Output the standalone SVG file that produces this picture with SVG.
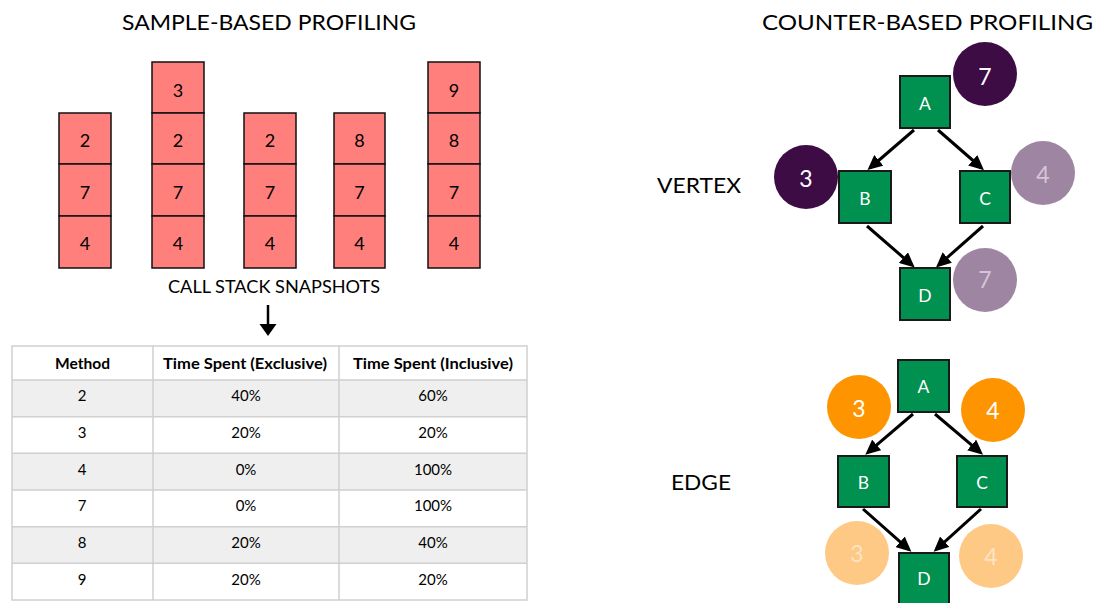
<svg xmlns="http://www.w3.org/2000/svg" width="1096" height="603" viewBox="0 0 1096 603">
<style>
text{font-family:Lato,"Open Sans","Liberation Sans",sans-serif;fill:#000}
.title{font-size:22px}
.lbl{font-size:22px}
.cell{fill:#ff7f7c;stroke:#111;stroke-width:1.5}
.cn{font-size:18px;text-anchor:middle}
.th{font-size:14.5px;font-weight:bold}
.td{font-size:15px;text-anchor:middle}
.grid{stroke:#d0d0d0;stroke-width:1.5;fill:none}
.node{fill:#00904f;stroke:#1a1a1a;stroke-width:2}
.nt{font-size:17.5px;fill:#fff;text-anchor:middle}
.ct{font-size:23px;fill:#fff;text-anchor:middle}
.ctl{font-size:23px;fill:#d4c6d6;text-anchor:middle}
.cto{font-size:23px;fill:#fde4c4;text-anchor:middle}
.edge{stroke:#000;stroke-width:3;fill:none;marker-end:url(#ah)}
</style>
<defs>
<marker id="ah" markerUnits="userSpaceOnUse" markerWidth="16" markerHeight="14" refX="11" refY="7" orient="auto">
<path d="M0,0 L15,7 L0,14 z" fill="#000"/>
</marker>
<marker id="ah2" markerUnits="userSpaceOnUse" markerWidth="14" markerHeight="18" refX="9" refY="8.5" orient="auto">
<path d="M0,0 L12,8.5 L0,17 z" fill="#000"/>
</marker>
</defs>
<rect width="1096" height="603" fill="#fff"/>

<text class="title" x="122" y="30" textLength="294" lengthAdjust="spacingAndGlyphs">SAMPLE-BASED PROFILING</text>
<text class="title" x="762" y="30" textLength="331" lengthAdjust="spacingAndGlyphs">COUNTER-BASED PROFILING</text>

<g id="stack1">
<rect class="cell" x="59" y="113" width="52" height="51"/><text class="cn" x="85" y="147">2</text>
<rect class="cell" x="59" y="164" width="52" height="52"/><text class="cn" x="85" y="198.5">7</text>
<rect class="cell" x="59" y="216" width="52" height="52"/><text class="cn" x="85" y="250">4</text>
</g>
<g id="stack2">
<rect class="cell" x="152" y="62" width="52" height="51"/><text class="cn" x="178" y="96.5">3</text>
<rect class="cell" x="152" y="113" width="52" height="51"/><text class="cn" x="178" y="147">2</text>
<rect class="cell" x="152" y="164" width="52" height="52"/><text class="cn" x="178" y="198.5">7</text>
<rect class="cell" x="152" y="216" width="52" height="52"/><text class="cn" x="178" y="250">4</text>
</g>
<g id="stack3">
<rect class="cell" x="244" y="113" width="52" height="51"/><text class="cn" x="270" y="147">2</text>
<rect class="cell" x="244" y="164" width="52" height="52"/><text class="cn" x="270" y="198.5">7</text>
<rect class="cell" x="244" y="216" width="52" height="52"/><text class="cn" x="270" y="250">4</text>
</g>
<g id="stack4">
<rect class="cell" x="334" y="113" width="51" height="51"/><text class="cn" x="359.5" y="147">8</text>
<rect class="cell" x="334" y="164" width="51" height="52"/><text class="cn" x="359.5" y="198.5">7</text>
<rect class="cell" x="334" y="216" width="51" height="52"/><text class="cn" x="359.5" y="250">4</text>
</g>
<g id="stack5">
<rect class="cell" x="428" y="62" width="52" height="51"/><text class="cn" x="454" y="96.5">9</text>
<rect class="cell" x="428" y="113" width="52" height="51"/><text class="cn" x="454" y="147">8</text>
<rect class="cell" x="428" y="164" width="52" height="52"/><text class="cn" x="454" y="198.5">7</text>
<rect class="cell" x="428" y="216" width="52" height="52"/><text class="cn" x="454" y="250">4</text>
</g>
<text x="168" y="293" style="font-size:16.5px" textLength="212" lengthAdjust="spacingAndGlyphs">CALL STACK SNAPSHOTS</text>
<line x1="268" y1="305" x2="268" y2="333" stroke="#000" stroke-width="2.5" marker-end="url(#ah2)"/>

<g id="table">
<rect x="12" y="346" width="515" height="34" fill="#fff"/>
<rect x="12" y="380" width="515" height="36.7" fill="#efefef"/>
<rect x="12" y="416.7" width="515" height="36.6" fill="#fff"/>
<rect x="12" y="453.3" width="515" height="36.7" fill="#efefef"/>
<rect x="12" y="490" width="515" height="36.7" fill="#fff"/>
<rect x="12" y="526.7" width="515" height="36.6" fill="#efefef"/>
<rect x="12" y="563.3" width="515" height="36.7" fill="#fff"/>
<rect class="grid" x="12" y="346" width="515" height="254"/>
<path class="grid" d="M12,380H527M12,416.7H527M12,453.3H527M12,490H527M12,526.7H527M12,563.3H527M153,346V600M339,346V600"/>
<text class="th" x="55" y="369" textLength="55" lengthAdjust="spacingAndGlyphs">Method</text>
<text class="th" x="163" y="369" textLength="164" lengthAdjust="spacingAndGlyphs">Time Spent (Exclusive)</text>
<text class="th" x="353" y="369" textLength="160" lengthAdjust="spacingAndGlyphs">Time Spent (Inclusive)</text>
<text class="td" x="82" y="401">2</text><text class="td" x="246" y="401">40%</text><text class="td" x="433" y="401">60%</text>
<text class="td" x="82" y="438">3</text><text class="td" x="246" y="438">20%</text><text class="td" x="433" y="438">20%</text>
<text class="td" x="82" y="475">4</text><text class="td" x="246" y="475">0%</text><text class="td" x="433" y="475">100%</text>
<text class="td" x="82" y="511">7</text><text class="td" x="246" y="511">0%</text><text class="td" x="433" y="511">100%</text>
<text class="td" x="82" y="548">8</text><text class="td" x="246" y="548">20%</text><text class="td" x="433" y="548">40%</text>
<text class="td" x="82" y="585">9</text><text class="td" x="246" y="585">20%</text><text class="td" x="433" y="585">20%</text>
</g>

<text class="lbl" x="657" y="193" textLength="84" lengthAdjust="spacingAndGlyphs">VERTEX</text>
<text class="lbl" x="671" y="490" textLength="60" lengthAdjust="spacingAndGlyphs">EDGE</text>

<g id="connectors">
<line class="edge" x1="914" y1="130" x2="870.5" y2="167.5"/>
<line class="edge" x1="938" y1="130" x2="981" y2="167.5"/>
<line class="edge" x1="867" y1="226" x2="911.7" y2="264.8"/>
<line class="edge" x1="983" y1="226" x2="939" y2="264.8"/>
<line class="edge" x1="913" y1="414" x2="868.3" y2="452.1"/>
<line class="edge" x1="935" y1="414" x2="980" y2="452.1"/>
<line class="edge" x1="863" y1="509" x2="908.4" y2="549.1"/>
<line class="edge" x1="981" y1="509" x2="936.6" y2="549.1"/>
</g>

<g id="vA"><rect class="node" x="900" y="76" width="50" height="52"/><text class="nt" x="925" y="110">A</text></g>
<g id="vB"><rect class="node" x="839" y="171" width="52" height="52"/><text class="nt" x="865" y="205">B</text></g>
<g id="vC"><rect class="node" x="960" y="171" width="50" height="52"/><text class="nt" x="985" y="205">C</text></g>
<g id="vD"><rect class="node" x="900" y="268" width="50" height="52"/><text class="nt" x="925" y="302">D</text></g>
<g id="cA"><circle cx="985" cy="74" r="32" fill="#3d0c45"/><text class="ct" x="985" y="85">7</text></g>
<g id="cB"><circle cx="806" cy="177" r="32" fill="#3d0c45"/><text class="ct" x="806" y="187">3</text></g>
<g id="cC"><circle cx="1043" cy="173" r="32" fill="#9e85a2"/><text class="ctl" x="1043" y="183">4</text></g>
<g id="cD"><circle cx="985" cy="280" r="32" fill="#9e85a2"/><text class="ctl" x="985" y="288">7</text></g>

<g id="eA"><rect class="node" x="898" y="360" width="51" height="52"/><text class="nt" x="923.5" y="393">A</text></g>
<g id="eB"><rect class="node" x="838" y="456" width="51" height="51"/><text class="nt" x="863.5" y="488.5">B</text></g>
<g id="eC"><rect class="node" x="957" y="456" width="50" height="51"/><text class="nt" x="982" y="488.5">C</text></g>
<g id="eD"><rect class="node" x="899" y="553" width="50" height="52"/><text class="nt" x="924" y="585">D</text></g>
<g id="eAB"><circle cx="859" cy="407" r="32" fill="#fe9400"/><text class="ct" x="859" y="417">3</text></g>
<g id="eAC"><circle cx="993" cy="410" r="32" fill="#fe9400"/><text class="ct" x="993" y="419">4</text></g>
<g id="eBD"><circle cx="857" cy="553" r="32" fill="#fec984"/><text class="cto" x="857" y="562">3</text></g>
<g id="eCD"><circle cx="991" cy="556" r="32" fill="#fec984"/><text class="cto" x="991" y="565">4</text></g>
</svg>
